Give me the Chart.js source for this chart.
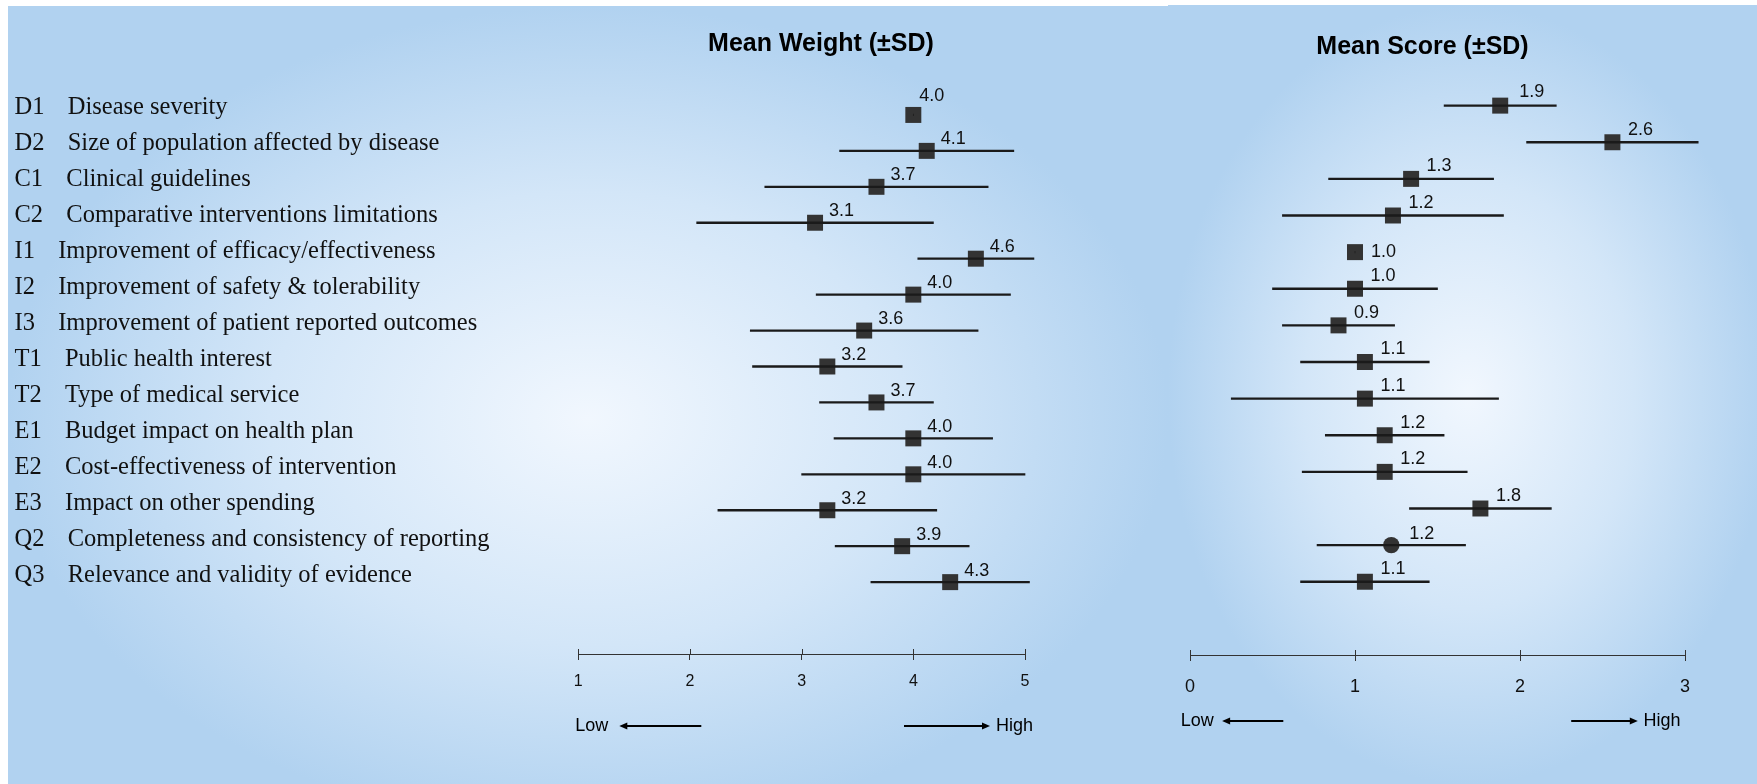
<!DOCTYPE html>
<html>
<head>
<meta charset="utf-8">
<title>Mean Weight and Mean Score</title>
<script src="https://cdn.jsdelivr.net/npm/chart.js@4.4.1/dist/chart.umd.min.js"></script>
<style>
  html, body { margin: 0; padding: 0; background: #fff; }
  body { width: 1757px; height: 784px; position: relative; overflow: hidden; }
  .panel { position: absolute; }
  #weightPanel {
    left: 8px; top: 6px; width: 1160px; height: 778px;
    background: radial-gradient(farthest-side at 50% 53%, #f1f7fe 0%, #d3e6f8 55%, #b1d2f0 100%);
  }
  #scorePanel {
    left: 1168px; top: 5px; width: 589px; height: 779px;
    background: radial-gradient(farthest-side at 51% 50%, #f1f7fe 0%, #d3e6f8 55%, #b1d2f0 100%);
  }
  canvas { position: absolute; top: 0; }
  #weightChart { left: 0; }
  #scoreChart { left: 1170px; }
</style>
</head>
<body>
<div class="panel" id="weightPanel"></div>
<div class="panel" id="scorePanel"></div>
<canvas id="weightChart" width="1170" height="784"></canvas>
<canvas id="scoreChart" width="587" height="784"></canvas>
<script>
const codes = ['D1', 'D2', 'C1', 'C2', 'I1', 'I2', 'I3', 'T1', 'T2', 'E1', 'E2', 'E3', 'Q2', 'Q3'];
const criteria = [
  'Disease severity',
  'Size of population affected by disease',
  'Clinical guidelines',
  'Comparative interventions limitations',
  'Improvement of efficacy/effectiveness',
  'Improvement of safety & tolerability',
  'Improvement of patient reported outcomes',
  'Public health interest',
  'Type of medical service',
  'Budget impact on health plan',
  'Cost-effectiveness of intervention',
  'Impact on other spending',
  'Completeness and consistency of reporting',
  'Relevance and validity of evidence',
];

const weightMean = [4.0, 4.12, 3.67, 3.12, 4.56, 4.0, 3.56, 3.23, 3.67, 4.0, 4.0, 3.23, 3.9, 4.33];
const weightSD = [0, 0.78, 1.0, 1.06, 0.52, 0.87, 1.02, 0.67, 0.51, 0.71, 1.0, 0.98, 0.6, 0.71];
const scoreMean = [1.88, 2.56, 1.34, 1.23, 1.0, 1.0, 0.9, 1.06, 1.06, 1.18, 1.18, 1.76, 1.22, 1.06];
const scoreSD = [0.34, 0.52, 0.5, 0.67, 0, 0.5, 0.34, 0.39, 0.81, 0.36, 0.5, 0.43, 0.45, 0.39];

const weightTicks = [1, 2, 3, 4, 5];
const scoreTicks = [0, 1, 2, 3];

const labelFont = '"Liberation Sans", Arial, sans-serif';

function drawArrow(ctx, x1, x2, y) {
  const dir = x2 > x1 ? 1 : -1;
  ctx.lineWidth = 2;
  ctx.beginPath();
  ctx.moveTo(x1, y);
  ctx.lineTo(x2 - dir * 6, y);
  ctx.stroke();
  ctx.beginPath();
  ctx.moveTo(x2, y);
  ctx.lineTo(x2 - dir * 8, y - 3.5);
  ctx.lineTo(x2 - dir * 8, y + 3.5);
  ctx.closePath();
  ctx.fill();
}

// title, value labels, tick stubs and the Low/High arrows
const panelText = {
  id: 'panelText',
  afterDraw(chart, args, opts) {
    const { ctx, chartArea } = chart;
    const xScale = chart.scales.x;
    ctx.save();
    ctx.fillStyle = '#000';

    ctx.font = 'bold 25px ' + labelFont;
    ctx.textAlign = 'center';
    ctx.textBaseline = 'middle';
    ctx.fillText(opts.title, opts.titleX, opts.titleY);

    ctx.lineWidth = 1;
    ctx.strokeStyle = '#333';
    xScale.ticks.forEach(t => {
      const px = Math.round(xScale.getPixelForValue(t.value)) + 0.5;
      ctx.beginPath();
      ctx.moveTo(px, chartArea.bottom - 5);
      ctx.lineTo(px, chartArea.bottom);
      ctx.stroke();
    });

    ctx.fillStyle = '#111';
    ctx.font = '18px ' + labelFont;
    ctx.textAlign = 'left';
    const meta = chart.getDatasetMeta(1);
    meta.data.forEach((pt, i) => {
      const off = opts.labelShift[i] || opts.labelOffset;
      ctx.fillText(opts.values[i].toFixed(1), pt.x + off[0], pt.y + off[1]);
    });

    ctx.strokeStyle = '#000';
    ctx.fillStyle = '#000';
    const y = opts.arrowY;
    ctx.fillText('Low', chartArea.left + opts.low[0], y);
    drawArrow(ctx, chartArea.left + opts.low[1], chartArea.left + opts.low[2], y);
    drawArrow(ctx, chartArea.right + opts.high[0], chartArea.right + opts.high[1], y);
    ctx.fillText('High', chartArea.right + opts.high[2], y);
    ctx.restore();
  },
};

function buildConfig(means, sds, ticks, panel) {
  const rows = means.map((m, i) => ({ x: [m - sds[i], m + sds[i]], y: i }));
  const points = means.map((m, i) => ({ x: m, y: i }));
  return {
    type: 'bar',
    data: {
      datasets: [
        {
          data: rows,
          backgroundColor: '#1a1a1a',
          borderWidth: 0,
          barThickness: 1.6,
          clip: false,
        },
        {
          type: 'scatter',
          data: points,
          backgroundColor: '#333333',
          borderColor: '#333333',
          borderWidth: 0,
          pointStyle: panel.pointStyle,
          pointRadius: panel.pointRadius,
          pointHoverRadius: panel.pointRadius,
          clip: false,
        },
      ],
    },
    options: {
      indexAxis: 'y',
      responsive: false,
      animation: false,
      events: [],
      layout: { padding: panel.padding },
      plugins: {
        legend: { display: false },
        tooltip: { enabled: false },
        panelText: panel.text,
      },
      scales: {
        x: {
          type: 'linear',
          position: 'bottom',
          min: ticks[0],
          max: ticks[ticks.length - 1],
          offset: false,
          afterBuildTicks: axis => { axis.ticks = ticks.map(v => ({ value: v })); },
          afterFit: axis => { axis.height = 40; },
          grid: { drawOnChartArea: false, drawTicks: true, tickLength: 6, color: '#333' },
          border: { display: true, color: '#333', width: 1 },
          ticks: {
            color: '#111',
            padding: panel.tickPadding,
            font: { family: labelFont, size: panel.tickSize },
          },
        },
        y: {
          type: 'linear',
          reverse: true,
          min: -1,
          max: 15,
          offset: false,
          display: panel.showLabels,
          afterBuildTicks: axis => { axis.ticks = codes.map((c, i) => ({ value: i })); },
          afterFit: axis => { axis.width = panel.labelWidth; },
          grid: { display: false, offset: false },
          border: { display: false },
          ticks: {
            crossAlign: 'far',
            color: '#111',
            labelOffset: -7,
            font: { family: '"Liberation Serif", "Times New Roman", serif', size: 24.5 },
            callback: v => codes[v] + '   \u2009' + criteria[v],
          },
        },
      },
    },
    plugins: [panelText],
  };
}

new Chart(document.getElementById('weightChart'), buildConfig(weightMean, weightSD, weightTicks, {
  padding: { left: 14.5, right: 145, top: 79, bottom: 90 },
  labelWidth: 563.8,
  showLabels: true,
  tickPadding: 12,
  tickSize: 16,
  pointStyle: 'rect',
  pointRadius: 11.3,
  text: {
    title: 'Mean Weight (±SD)',
    titleX: 821,
    titleY: 44,
    values: weightMean,
    labelOffset: [14, -11.5],
    labelShift: { 0: [6, -19] },
    arrowY: 726,
    low: [-3, 123, 41],
    high: [-121, -35, -29],
  },
}));

new Chart(document.getElementById('scoreChart'), buildConfig(scoreMean, scoreSD, scoreTicks, {
  padding: { left: 19.5, right: 72, top: 69, bottom: 89 },
  labelWidth: 0,
  showLabels: false,
  tickPadding: 15,
  tickSize: 18,
  pointStyle: ctx => (ctx.dataIndex === 12 ? 'circle' : 'rect'),
  pointRadius: ctx => (ctx.dataIndex === 12 ? 8.2 : 11.3),
  text: {
    title: 'Mean Score (±SD)',
    titleX: 252.5,
    titleY: 47.5,
    values: scoreMean,
    labelOffset: [15.5, -12.5],
    labelShift: { 0: [19, -13.5], 4: [16, 0], 12: [18, -11] },
    arrowY: 721,
    low: [-9.3, 93.3, 32.1],
    high: [-113.8, -47.2, -41.4],
  },
}));
</script>
</body>
</html>
